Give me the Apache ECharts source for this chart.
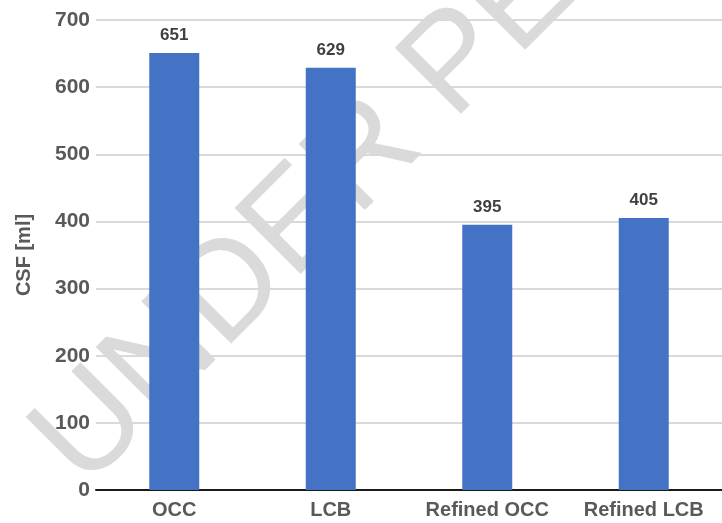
<!DOCTYPE html>
<html>
<head>
<meta charset="utf-8">
<script src="https://cdn.jsdelivr.net/npm/echarts@6/dist/echarts.min.js"></script>
<style>
  html, body { margin: 0; padding: 0; background: #fff; }
  #chart { width: 722px; height: 523px; }
</style>
</head>
<body>
<div id="chart"></div>
<script>
const categories = ['OCC', 'LCB', 'Refined OCC', 'Refined LCB']
const csfValues = [651, 629, 395, 405]
const yTicks = [0, 100, 200, 300, 400, 500, 600, 700]
const axisTitle = 'CSF [ml]'
const watermark = 'UNDER PEER REVIEW'

const chart = echarts.init(document.getElementById('chart'))

const option = {
  backgroundColor: '#ffffff',
  animation: false,
  grid: { left: 96, right: -6, top: 20, bottom: 33, containLabel: false },
  graphic: [{
    type: 'text',
    z: -10,
    x: 106,
    y: 512,
    rotation: Math.PI / 4,
    style: {
      text: watermark,
      font: '136px "Liberation Sans", Arial, sans-serif',
      fill: '#dadada',
      textAlign: 'left',
      textVerticalAlign: 'bottom'
    }
  }],
  xAxis: {
    type: 'category',
    data: categories,
    axisLine: { lineStyle: { color: '#1a1a1a', width: 2 } },
    axisTick: { show: false },
    axisLabel: {
      color: '#595959',
      fontFamily: '"Liberation Sans", Arial, sans-serif',
      fontWeight: 'bold',
      fontSize: 20,
      margin: 10,
      interval: 0
    }
  },
  yAxis: {
    type: 'value',
    min: yTicks[0],
    max: yTicks[yTicks.length - 1],
    interval: 100,
    name: axisTitle,
    nameLocation: 'middle',
    nameGap: 62,
    nameTextStyle: {
      color: '#595959',
      fontFamily: '"Liberation Sans", Arial, sans-serif',
      fontWeight: 'bold',
      fontSize: 20
    },
    axisLine: { show: false },
    axisTick: { show: false },
    axisLabel: {
      color: '#595959',
      fontFamily: '"Liberation Sans", Arial, sans-serif',
      fontWeight: 'bold',
      fontSize: 21,
      margin: 6
    },
    splitLine: { lineStyle: { color: '#d9d9d9', width: 2 } }
  },
  series: [{
    type: 'bar',
    data: csfValues,
    barWidth: 50,
    itemStyle: { color: '#4472c4' },
    label: {
      show: true,
      position: 'top',
      distance: 9,
      color: '#404040',
      fontFamily: '"Liberation Sans", Arial, sans-serif',
      fontWeight: 'bold',
      fontSize: 17
    }
  }]
}

chart.setOption(option)
</script>
</body>
</html>
